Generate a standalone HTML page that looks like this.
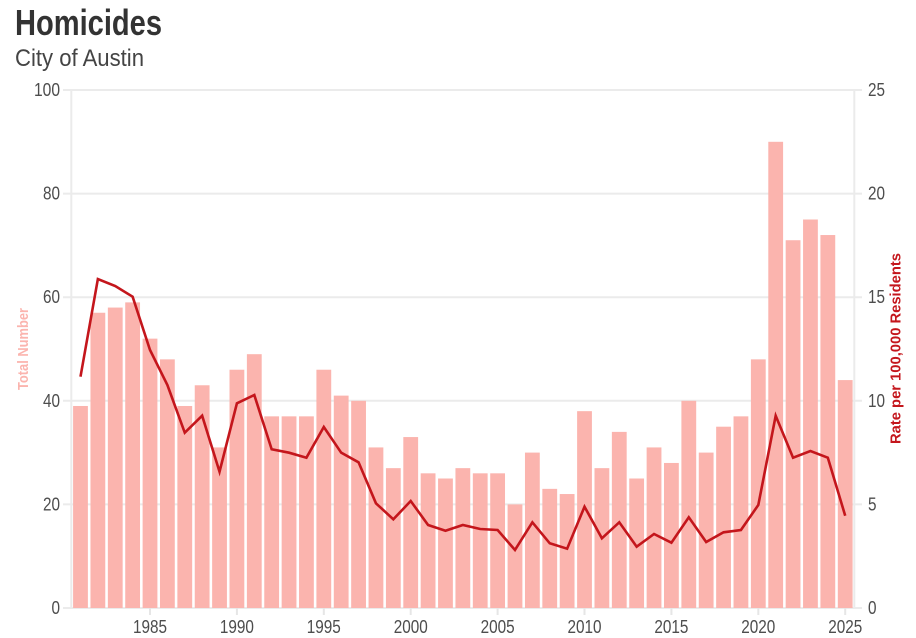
<!DOCTYPE html>
<html>
<head>
<meta charset="utf-8">
<style>
  html,body{margin:0;padding:0;background:#fff;}
  svg{display:block;}
  text{font-family:"Liberation Sans", sans-serif;}
</style>
</head>
<body>
<svg width="916" height="638" viewBox="0 0 916 638" xmlns="http://www.w3.org/2000/svg">
  <rect width="916" height="638" fill="#fff"/>
  <text x="15" y="35" font-size="36" font-weight="bold" fill="#333" textLength="147" lengthAdjust="spacingAndGlyphs">Homicides</text>
  <text x="15" y="66" font-size="24" fill="#444" textLength="129" lengthAdjust="spacingAndGlyphs">City of Austin</text>

  <g stroke="#ebebeb" stroke-width="2">
    <line x1="63" y1="90" x2="862" y2="90"/>
    <line x1="63" y1="193.6" x2="862" y2="193.6"/>
    <line x1="63" y1="297.2" x2="862" y2="297.2"/>
    <line x1="63" y1="400.8" x2="862" y2="400.8"/>
    <line x1="63" y1="504.4" x2="862" y2="504.4"/>
    <line x1="63" y1="608" x2="862" y2="608"/>
    <line x1="71.3" y1="90" x2="71.3" y2="608"/>
    <line x1="854.3" y1="90" x2="854.3" y2="608"/>
  </g>
  <g stroke="#e6e6e6" stroke-width="2">
    <line x1="150.01" y1="608" x2="150.01" y2="615"/>
    <line x1="236.91" y1="608" x2="236.91" y2="615"/>
    <line x1="323.81" y1="608" x2="323.81" y2="615"/>
    <line x1="410.71" y1="608" x2="410.71" y2="615"/>
    <line x1="497.61" y1="608" x2="497.61" y2="615"/>
    <line x1="584.51" y1="608" x2="584.51" y2="615"/>
    <line x1="671.41" y1="608" x2="671.41" y2="615"/>
    <line x1="758.31" y1="608" x2="758.31" y2="615"/>
    <line x1="845.21" y1="608" x2="845.21" y2="615"/>
  </g>

  <g fill="#fbb4ae">
    <rect x="73.09" y="405.98" width="14.8" height="202.02"/>
    <rect x="90.47" y="312.74" width="14.8" height="295.26"/>
    <rect x="107.85" y="307.56" width="14.8" height="300.44"/>
    <rect x="125.23" y="302.38" width="14.8" height="305.62"/>
    <rect x="142.61" y="338.64" width="14.8" height="269.36"/>
    <rect x="159.99" y="359.36" width="14.8" height="248.64"/>
    <rect x="177.37" y="405.98" width="14.8" height="202.02"/>
    <rect x="194.75" y="385.26" width="14.8" height="222.74"/>
    <rect x="212.13" y="447.42" width="14.8" height="160.58"/>
    <rect x="229.51" y="369.72" width="14.8" height="238.28"/>
    <rect x="246.89" y="354.18" width="14.8" height="253.82"/>
    <rect x="264.27" y="416.34" width="14.8" height="191.66"/>
    <rect x="281.65" y="416.34" width="14.8" height="191.66"/>
    <rect x="299.03" y="416.34" width="14.8" height="191.66"/>
    <rect x="316.41" y="369.72" width="14.8" height="238.28"/>
    <rect x="333.79" y="395.62" width="14.8" height="212.38"/>
    <rect x="351.17" y="400.8" width="14.8" height="207.2"/>
    <rect x="368.55" y="447.42" width="14.8" height="160.58"/>
    <rect x="385.93" y="468.14" width="14.8" height="139.86"/>
    <rect x="403.31" y="437.06" width="14.8" height="170.94"/>
    <rect x="420.69" y="473.32" width="14.8" height="134.68"/>
    <rect x="438.07" y="478.5" width="14.8" height="129.5"/>
    <rect x="455.45" y="468.14" width="14.8" height="139.86"/>
    <rect x="472.83" y="473.32" width="14.8" height="134.68"/>
    <rect x="490.21" y="473.32" width="14.8" height="134.68"/>
    <rect x="507.59" y="504.4" width="14.8" height="103.6"/>
    <rect x="524.97" y="452.6" width="14.8" height="155.4"/>
    <rect x="542.35" y="488.86" width="14.8" height="119.14"/>
    <rect x="559.73" y="494.04" width="14.8" height="113.96"/>
    <rect x="577.11" y="411.16" width="14.8" height="196.84"/>
    <rect x="594.49" y="468.14" width="14.8" height="139.86"/>
    <rect x="611.87" y="431.88" width="14.8" height="176.12"/>
    <rect x="629.25" y="478.5" width="14.8" height="129.5"/>
    <rect x="646.63" y="447.42" width="14.8" height="160.58"/>
    <rect x="664.01" y="462.96" width="14.8" height="145.04"/>
    <rect x="681.39" y="400.8" width="14.8" height="207.2"/>
    <rect x="698.77" y="452.6" width="14.8" height="155.4"/>
    <rect x="716.15" y="426.7" width="14.8" height="181.3"/>
    <rect x="733.53" y="416.34" width="14.8" height="191.66"/>
    <rect x="750.91" y="359.36" width="14.8" height="248.64"/>
    <rect x="768.29" y="141.8" width="14.8" height="466.2"/>
    <rect x="785.67" y="240.22" width="14.8" height="367.78"/>
    <rect x="803.05" y="219.5" width="14.8" height="388.5"/>
    <rect x="820.43" y="235.04" width="14.8" height="372.96"/>
    <rect x="837.81" y="380.08" width="14.8" height="227.92"/>
  </g>

  <polyline fill="none" stroke="#c4161c" stroke-width="2.6" stroke-linejoin="miter" stroke-miterlimit="4"
    points="80.49,376.7 97.87,279 115.25,286 132.63,296.7 150.01,350 167.39,385 184.77,432.7 202.15,415.7 219.53,471.7 236.91,403.3 254.29,395 271.67,449.3 289.05,452.7 306.43,457.7 323.81,427 341.19,452.7 358.57,462.3 375.95,503.3 393.33,519.3 410.71,501 428.09,525 445.47,530.7 462.85,525 480.23,529 497.61,530 514.99,550 532.37,522.3 549.75,543.3 567.13,548.7 584.51,506.7 601.89,538.3 619.27,522.3 636.65,546.7 654.03,534 671.41,542.7 688.79,517.3 706.17,542 723.55,532.3 740.93,530 758.31,505 775.69,415.7 793.07,457.7 810.45,451 827.83,457.7 845.21,515.7"/>

  <g font-size="18" fill="#4d4d4d" text-anchor="end">
    <text x="60" y="96" textLength="26" lengthAdjust="spacingAndGlyphs">100</text>
    <text x="60" y="199.6" textLength="17" lengthAdjust="spacingAndGlyphs">80</text>
    <text x="60" y="303.2" textLength="17" lengthAdjust="spacingAndGlyphs">60</text>
    <text x="60" y="406.8" textLength="17" lengthAdjust="spacingAndGlyphs">40</text>
    <text x="60" y="510.4" textLength="17" lengthAdjust="spacingAndGlyphs">20</text>
    <text x="60" y="614" textLength="8.5" lengthAdjust="spacingAndGlyphs">0</text>
  </g>
  <g font-size="18" fill="#4d4d4d">
    <text x="868" y="96" textLength="17" lengthAdjust="spacingAndGlyphs">25</text>
    <text x="868" y="199.6" textLength="17" lengthAdjust="spacingAndGlyphs">20</text>
    <text x="868" y="303.2" textLength="17" lengthAdjust="spacingAndGlyphs">15</text>
    <text x="868" y="406.8" textLength="17" lengthAdjust="spacingAndGlyphs">10</text>
    <text x="868" y="510.4" textLength="8.5" lengthAdjust="spacingAndGlyphs">5</text>
    <text x="868" y="614" textLength="8.5" lengthAdjust="spacingAndGlyphs">0</text>
  </g>
  <g font-size="18" fill="#4d4d4d" text-anchor="middle">
    <text x="150.01" y="633" textLength="34" lengthAdjust="spacingAndGlyphs">1985</text>
    <text x="236.91" y="633" textLength="34" lengthAdjust="spacingAndGlyphs">1990</text>
    <text x="323.81" y="633" textLength="34" lengthAdjust="spacingAndGlyphs">1995</text>
    <text x="410.71" y="633" textLength="34" lengthAdjust="spacingAndGlyphs">2000</text>
    <text x="497.61" y="633" textLength="34" lengthAdjust="spacingAndGlyphs">2005</text>
    <text x="584.51" y="633" textLength="34" lengthAdjust="spacingAndGlyphs">2010</text>
    <text x="671.41" y="633" textLength="34" lengthAdjust="spacingAndGlyphs">2015</text>
    <text x="758.31" y="633" textLength="34" lengthAdjust="spacingAndGlyphs">2020</text>
    <text x="845.21" y="633" textLength="34" lengthAdjust="spacingAndGlyphs">2025</text>
  </g>

  <text transform="translate(28,349) rotate(-90)" text-anchor="middle" font-size="15" font-weight="bold" fill="#fbb4ae" textLength="82" lengthAdjust="spacingAndGlyphs">Total Number</text>
  <text transform="translate(900.5,348.5) rotate(-90)" text-anchor="middle" font-size="15" font-weight="bold" fill="#c4161c" textLength="191" lengthAdjust="spacingAndGlyphs">Rate per 100,000 Residents</text>
</svg>
</body>
</html>
